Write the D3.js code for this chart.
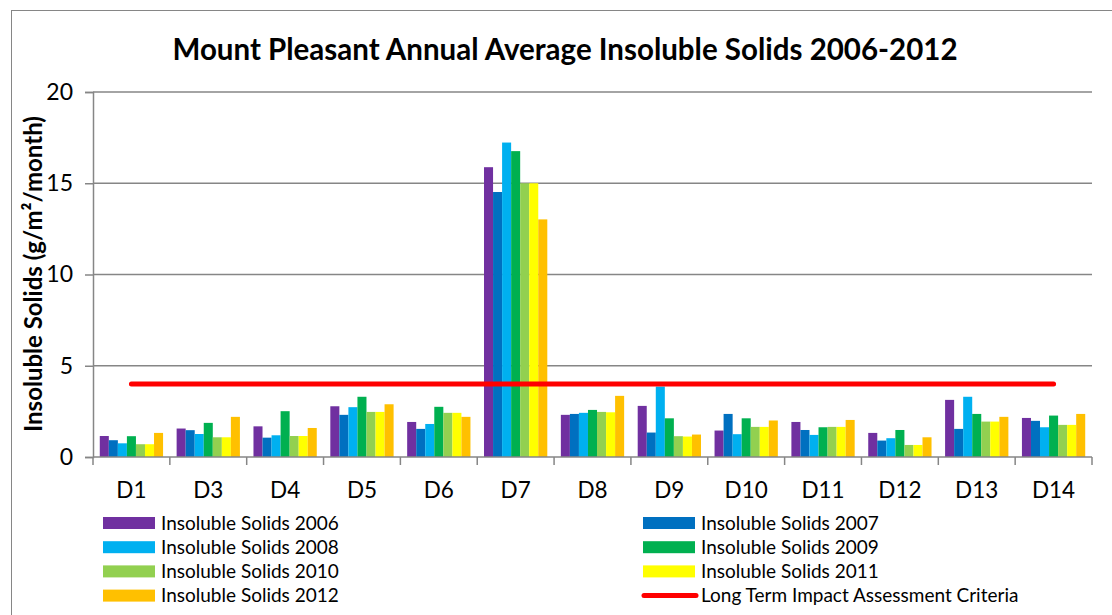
<!DOCTYPE html>
<html>
<head>
<meta charset="utf-8">
<script src="https://cdn.jsdelivr.net/npm/d3@7"></script>
<style>
  body { margin: 0; background: #fff; }
  svg text { font-family: Lato, "Open Sans", sans-serif; fill: #000; }
</style>
</head>
<body>
<svg id="chart" width="1112" height="615"></svg>
<script>

// sites along the x axis
var sites = ["D1","D3","D4","D5","D6","D7","D8","D9","D10","D11","D12","D13","D14"];

// one array per year, in site order (g/m2/month)
var solids2006 = [1.15, 1.56, 1.68, 2.78, 1.92, 15.88, 2.31, 2.80, 1.45, 1.92, 1.32, 3.13, 2.14];
var solids2007 = [0.92, 1.47, 1.06, 2.31, 1.54, 14.52, 2.36, 1.34, 2.36, 1.48, 0.90, 1.54, 1.98];
var solids2008 = [0.75, 1.26, 1.19, 2.73, 1.81, 17.23, 2.42, 3.86, 1.25, 1.21, 1.03, 3.30, 1.63];
var solids2009 = [1.14, 1.87, 2.51, 3.30, 2.75, 16.76, 2.58, 2.12, 2.12, 1.63, 1.48, 2.36, 2.27];
var solids2010 = [0.70, 1.08, 1.15, 2.47, 2.42, 15.00, 2.47, 1.14, 1.65, 1.65, 0.66, 1.94, 1.76];
var solids2011 = [0.70, 1.08, 1.15, 2.47, 2.42, 15.00, 2.45, 1.12, 1.65, 1.65, 0.66, 1.94, 1.76];
var solids2012 = [1.32, 2.20, 1.59, 2.89, 2.20, 13.02, 3.35, 1.23, 2.00, 2.03, 1.08, 2.20, 2.36];

var criteria = 4; // long term impact assessment criteria

var seriesNames = ["Insoluble Solids 2006","Insoluble Solids 2007","Insoluble Solids 2008",
                   "Insoluble Solids 2009","Insoluble Solids 2010","Insoluble Solids 2011",
                   "Insoluble Solids 2012"];
var seriesColors = ["#7030A0","#0070C0","#00B0F0","#00B050","#92D050","#FFFF00","#FFC000"];
var yTicks = [0, 5, 10, 15, 20];

var allSeries = [solids2006, solids2007, solids2008, solids2009, solids2010, solids2011, solids2012];

var svg = d3.select("#chart");
var axisGrey = "#868686";

// outer chart frame
svg.append("rect")
    .attr("x", 11.5).attr("y", 10.5)
    .attr("width", 1130).attr("height", 640)
    .attr("fill", "none")
    .attr("stroke", axisGrey)
    .attr("stroke-width", 1);

var plot = {left: 93, right: 1092, top: 92, bottom: 457};

var x0 = d3.scaleBand()
    .domain(sites)
    .range([plot.left, plot.right])
    .paddingInner(1.5 / 8.5)
    .paddingOuter(0.75 / 8.5);

var x1 = d3.scaleBand()
    .domain(d3.range(allSeries.length))
    .range([0, x0.bandwidth()]);

var y = d3.scaleLinear()
    .domain([0, 20])
    .range([plot.bottom, plot.top]);

// gridlines
svg.append("g")
    .selectAll("line")
    .data(yTicks.filter(d => d > 0))
    .enter()
    .append("line")
    .attr("x1", plot.left).attr("x2", plot.right)
    .attr("y1", d => y(d)).attr("y2", d => y(d))
    .attr("stroke", axisGrey)
    .attr("stroke-width", 1.5);

// y axis
var yAxis = svg.append("g")
    .attr("transform", `translate(${plot.left},0)`)
    .call(d3.axisLeft(y).tickValues(yTicks).tickSize(8).tickPadding(12));
yAxis.select(".domain").attr("stroke", axisGrey).attr("stroke-width", 1.5);
yAxis.selectAll(".tick line").attr("stroke", axisGrey).attr("stroke-width", 1.5);
yAxis.selectAll(".tick text")
    .attr("font-size", 23)
    .attr("font-family", "Lato, sans-serif")
    .attr("fill", "#000");

// bars
var groups = svg.append("g")
    .selectAll("g")
    .data(sites)
    .enter()
    .append("g")
    .attr("transform", d => `translate(${x0(d)},0)`);

groups.selectAll("rect")
    .data((site, i) => allSeries.map((s, k) => ({k: k, v: s[i]})))
    .enter()
    .append("rect")
    .attr("x", d => x1(d.k))
    .attr("width", x1.bandwidth())
    .attr("y", d => y(d.v))
    .attr("height", d => y(0) - y(d.v))
    .attr("fill", d => seriesColors[d.k]);

// x axis line + category ticks
svg.append("line")
    .attr("x1", plot.left).attr("x2", plot.right)
    .attr("y1", plot.bottom).attr("y2", plot.bottom)
    .attr("stroke", axisGrey).attr("stroke-width", 1.5);

var step = x0.step();
svg.append("g")
    .selectAll("line")
    .data(d3.range(sites.length + 1))
    .enter()
    .append("line")
    .attr("x1", i => plot.left + i * step)
    .attr("x2", i => plot.left + i * step)
    .attr("y1", plot.bottom).attr("y2", plot.bottom + 8)
    .attr("stroke", axisGrey).attr("stroke-width", 1.5);

svg.append("g")
    .selectAll("text")
    .data(sites)
    .enter()
    .append("text")
    .attr("x", d => x0(d) + x0.bandwidth() / 2)
    .attr("y", 498)
    .attr("text-anchor", "middle")
    .attr("font-size", 22.5)
    .text(d => d);

// criteria line, centre of first site to centre of last
svg.append("path")
    .datum(sites.map(s => [x0(s) + x0.bandwidth() / 2, y(criteria)]))
    .attr("d", d3.line())
    .attr("fill", "none")
    .attr("stroke", "#FF0000")
    .attr("stroke-width", 5)
    .attr("stroke-linecap", "round");

// title
svg.append("text")
    .attr("x", 565)
    .attr("y", 60)
    .attr("text-anchor", "middle")
    .attr("font-size", 29.5)
    .attr("font-weight", "bold")
    .text("Mount Pleasant Annual Average Insoluble Solids 2006-2012");

// y axis title
svg.append("text")
    .attr("transform", "translate(42,274) rotate(-90)")
    .attr("text-anchor", "middle")
    .attr("font-size", 24)
    .attr("font-weight", "bold")
    .text("Insoluble Solids (g/m\u00B2/month)");

// legend: two columns, series then the criteria line
var legendItems = seriesNames.map((n, k) => ({name: n, color: seriesColors[k], line: false}));
legendItems.push({name: "Long Term Impact Assessment Criteria", color: "#FF0000", line: true});

var legend = svg.append("g")
    .selectAll("g")
    .data(legendItems)
    .enter()
    .append("g")
    .attr("transform", (d, i) => `translate(${i % 2 == 0 ? 103 : 643},${523 + Math.floor(i / 2) * 24.2})`);

legend.filter(d => !d.line).append("rect")
    .attr("x", 0).attr("y", -6)
    .attr("width", 52).attr("height", 12)
    .attr("fill", d => d.color);

legend.filter(d => d.line).append("line")
    .attr("x1", 1).attr("x2", 53)
    .attr("y1", 0).attr("y2", 0)
    .attr("stroke", d => d.color)
    .attr("stroke-width", 5)
    .attr("stroke-linecap", "round");

legend.append("text")
    .attr("x", 58)
    .attr("y", 6.5)
    .attr("font-size", 19)
    .text(d => d.name);

</script>
</body>
</html>
